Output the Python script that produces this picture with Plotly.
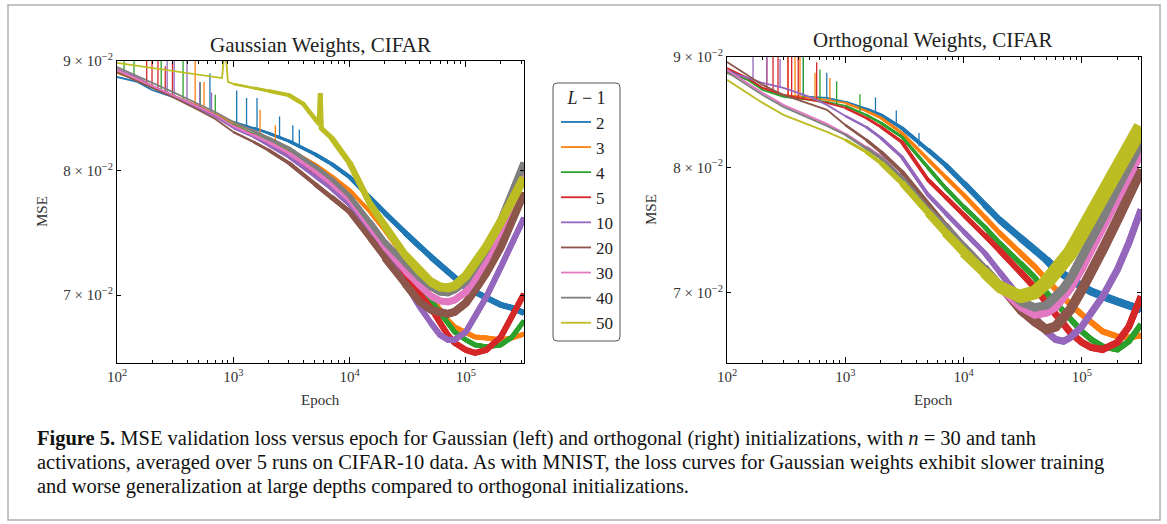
import plotly.graph_objects as go

# ---------------- data ----------------
EPOCHS = [100, 150, 200, 300, 500, 700, 1000, 1500, 2000, 3000, 5000, 7000,
          10000, 15000, 20000, 30000, 40000, 50000, 60000, 70000, 80000,
          100000, 120000, 150000, 200000, 250000, 316000]

DEPTHS = ["2", "3", "4", "5", "10", "20", "30", "40", "50"]

# Gaussian weights, CIFAR (left panel)
gauss_2 = [0.08847, 0.08800, 0.08724, 0.08659, 0.08567, 0.08502, 0.08430, 0.08375, 0.08330,
           0.08259, 0.08145, 0.08058, 0.07946, 0.07769, 0.07645, 0.07483, 0.07371, 0.07292,
           0.07230, 0.07176, 0.07137, 0.07061, 0.07023, 0.06978, 0.06926, 0.06904, 0.06867]
gauss_3 = [0.08885, 0.08818, 0.08753, 0.08677, 0.08576, 0.08502, 0.08421, 0.08348, 0.08286,
           0.08189, 0.08058, 0.07955, 0.07836, 0.07654, 0.07507, 0.07284, 0.07115, 0.06986,
           0.06889, 0.06815, 0.06765, 0.06721, 0.06692, 0.06685, 0.06671, 0.06685, 0.06713]
gauss_4 = [0.08914, 0.08837, 0.08762, 0.08677, 0.08567, 0.08493, 0.08402, 0.08321, 0.08259,
           0.08162, 0.08015, 0.07904, 0.07778, 0.07572, 0.07411, 0.07207, 0.07061, 0.06963,
           0.06867, 0.06794, 0.06728, 0.06671, 0.06635, 0.06621, 0.06635, 0.06692, 0.06808]
gauss_5 = [0.08914, 0.08837, 0.08762, 0.08677, 0.08567, 0.08484, 0.08393, 0.08313, 0.08241,
           0.08145, 0.07989, 0.07878, 0.07744, 0.07523, 0.07363, 0.07161, 0.07016, 0.06904,
           0.06794, 0.06706, 0.06650, 0.06599, 0.06578, 0.06599, 0.06692, 0.06838, 0.07008]
gauss_10 = [0.08923, 0.08837, 0.08762, 0.08668, 0.08558, 0.08475, 0.08375, 0.08295, 0.08224,
            0.08118, 0.07955, 0.07845, 0.07711, 0.07491, 0.07331, 0.07092, 0.06911, 0.06794,
            0.06706, 0.06671, 0.06671, 0.06728, 0.06838, 0.06986, 0.07214, 0.07403, 0.07604]
gauss_20 = [0.08894, 0.08809, 0.08743, 0.08659, 0.08539, 0.08457, 0.08339, 0.08250, 0.08180,
            0.08067, 0.07887, 0.07778, 0.07654, 0.07443, 0.07284, 0.07084, 0.06948, 0.06889,
            0.06867, 0.06860, 0.06874, 0.06941, 0.07039, 0.07168, 0.07371, 0.07588, 0.07811]
gauss_30 = [0.08914, 0.08828, 0.08762, 0.08677, 0.08567, 0.08493, 0.08393, 0.08313, 0.08250,
            0.08154, 0.07998, 0.07887, 0.07752, 0.07531, 0.07371, 0.07184, 0.07069, 0.06993,
            0.06956, 0.06948, 0.06963, 0.07023, 0.07122, 0.07269, 0.07507, 0.07728, 0.07989]
gauss_40 = [0.08942, 0.08856, 0.08790, 0.08706, 0.08594, 0.08521, 0.08430, 0.08348, 0.08286,
            0.08197, 0.08041, 0.07929, 0.07786, 0.07572, 0.07411, 0.07245, 0.07130, 0.07061,
            0.07023, 0.07016, 0.07039, 0.07099, 0.07207, 0.07347, 0.07588, 0.07811, 0.08067]
gauss_50_epochs = [100, 200, 300, 500, 700, 800, 850, 900, 1000, 1500, 2000, 3000, 4000,
                   4500, 5000, 5500, 5600, 5700, 7000, 10000, 15000, 20000, 30000, 40000,
                   50000, 60000, 70000, 80000, 100000, 120000, 150000, 200000, 250000, 316000]
gauss_50 = [0.08981, 0.08933, 0.08904, 0.08866, 0.08847, 0.08837, 0.09150, 0.08800, 0.08781,
            0.08743, 0.08715, 0.08677, 0.08594, 0.08521, 0.08466, 0.08411, 0.08696, 0.08375,
            0.08286, 0.08067, 0.07719, 0.07539, 0.07308, 0.07176, 0.07099, 0.07061, 0.07054,
            0.07069, 0.07145, 0.07245, 0.07371, 0.07572, 0.07752, 0.07938]

# Orthogonal weights, CIFAR (right panel)
orth_2 = [0.08876, 0.08801, 0.08708, 0.08634, 0.08625, 0.08616, 0.08580, 0.08515, 0.08461,
          0.08344, 0.08152, 0.08023, 0.07870, 0.07688, 0.07567, 0.07423, 0.07328, 0.07251,
          0.07175, 0.07136, 0.07099, 0.07045, 0.07008, 0.06971, 0.06934, 0.06905, 0.06875]
orth_3 = [0.08857, 0.08783, 0.08708, 0.08643, 0.08616, 0.08598, 0.08570, 0.08497, 0.08434,
          0.08300, 0.08066, 0.07921, 0.07770, 0.07590, 0.07463, 0.07305, 0.07197, 0.07099,
          0.07023, 0.06963, 0.06912, 0.06838, 0.06781, 0.06716, 0.06680, 0.06673, 0.06687]
orth_4 = [0.08848, 0.08783, 0.08690, 0.08625, 0.08598, 0.08580, 0.08543, 0.08461, 0.08389,
          0.08266, 0.07997, 0.07829, 0.07672, 0.07510, 0.07383, 0.07227, 0.07113, 0.07001,
          0.06926, 0.06853, 0.06802, 0.06716, 0.06659, 0.06609, 0.06588, 0.06646, 0.06766]
orth_5 = [0.08895, 0.08801, 0.08708, 0.08643, 0.08598, 0.08570, 0.08524, 0.08434, 0.08353,
          0.08221, 0.07895, 0.07754, 0.07606, 0.07447, 0.07328, 0.07159, 0.07038, 0.06926,
          0.06838, 0.06766, 0.06708, 0.06638, 0.06602, 0.06588, 0.06638, 0.06751, 0.06971]
orth_10 = [0.08857, 0.08801, 0.08754, 0.08708, 0.08625, 0.08552, 0.08452, 0.08353, 0.08256,
           0.08091, 0.07770, 0.07622, 0.07471, 0.07305, 0.07159, 0.06971, 0.06824, 0.06716,
           0.06659, 0.06646, 0.06673, 0.06751, 0.06853, 0.06971, 0.07175, 0.07383, 0.07648]
orth_20 = [0.08952, 0.08829, 0.08736, 0.08643, 0.08561, 0.08506, 0.08371, 0.08239, 0.08134,
           0.07964, 0.07688, 0.07526, 0.07352, 0.07190, 0.07061, 0.06875, 0.06781, 0.06730,
           0.06751, 0.06817, 0.06875, 0.07023, 0.07151, 0.07328, 0.07567, 0.07754, 0.07980]
orth_30 = [0.08876, 0.08754, 0.08662, 0.08552, 0.08452, 0.08380, 0.08292, 0.08177, 0.08091,
           0.07912, 0.07648, 0.07518, 0.07360, 0.07190, 0.07045, 0.06898, 0.06838, 0.06853,
           0.06898, 0.06971, 0.07038, 0.07190, 0.07328, 0.07502, 0.07754, 0.07938, 0.08134]
orth_40 = [0.08857, 0.08736, 0.08643, 0.08534, 0.08434, 0.08362, 0.08283, 0.08169, 0.08082,
           0.07912, 0.07656, 0.07518, 0.07360, 0.07190, 0.07068, 0.06934, 0.06890, 0.06905,
           0.06963, 0.07030, 0.07105, 0.07266, 0.07407, 0.07582, 0.07829, 0.08023, 0.08221]
orth_50 = [0.08783, 0.08662, 0.08570, 0.08461, 0.08371, 0.08309, 0.08239, 0.08134, 0.08040,
           0.07870, 0.07622, 0.07463, 0.07305, 0.07151, 0.07045, 0.06971, 0.07001, 0.07076,
           0.07151, 0.07227, 0.07305, 0.07463, 0.07590, 0.07754, 0.07980, 0.08177, 0.08353]

# Early noise spikes seen in the reference: epoch, curve level, spike top
gauss_spike_epochs = {
    0: [630, 1070, 1300, 1600, 2500, 3250, 3700],
    1: [470, 560, 1700, 2300],
    2: [115, 140, 240, 370, 520, 700],
    3: [180, 200, 225, 260, 300],
    4: [270, 310, 400, 515, 650],
}
gauss_spike_low = {
    0: [0.0852, 0.0842, 0.0839, 0.0837, 0.0829, 0.0825, 0.0821],
    1: [0.0859, 0.0855, 0.0832, 0.0826],
    2: [0.0889, 0.0885, 0.0872, 0.0863, 0.0856, 0.0849],
    3: [0.0879, 0.0876, 0.0873, 0.0870, 0.0868],
    4: [0.0869, 0.0866, 0.0861, 0.0855, 0.0849],
}
gauss_spike_high = {
    0: [0.0888, 0.0872, 0.0865, 0.0865, 0.0848, 0.0840, 0.0836],
    1: [0.0905, 0.0880, 0.0854, 0.0840],
    2: [0.0905, 0.0905, 0.0905, 0.0905, 0.0880, 0.0868],
    3: [0.0905, 0.0905, 0.0905, 0.0895, 0.0898],
    4: [0.0905, 0.0905, 0.0905, 0.0880, 0.0870],
}
orth_spike_epochs = {
    0: [442, 697, 1800, 2700, 4200],
    1: [328, 376, 414, 555, 742],
    2: [442, 611, 845, 1330],
    3: [217, 245, 270, 328, 352, 400, 573],
    4: [166, 217, 281],
}
orth_spike_low = {
    0: [0.0863, 0.0862, 0.0848, 0.0836, 0.0818],
    1: [0.0864, 0.0863, 0.0862, 0.0861, 0.0859],
    2: [0.0861, 0.0859, 0.0856, 0.0848],
    3: [0.0870, 0.0869, 0.0867, 0.0864, 0.0863, 0.0862, 0.0859],
    4: [0.0880, 0.0876, 0.0871],
}
orth_spike_high = {
    0: [0.0905, 0.0885, 0.0862, 0.0850, 0.0830],
    1: [0.0905, 0.0905, 0.0905, 0.0885, 0.0880],
    2: [0.0905, 0.0888, 0.0877, 0.0865],
    3: [0.0905, 0.0905, 0.0905, 0.0905, 0.0905, 0.0905, 0.0895],
    4: [0.0905, 0.0905, 0.0898],
}

X_TICKS = [100, 1000, 10000, 100000]
X_TICK_TEXT = ["10<sup>2</sup>", "10<sup>3</sup>", "10<sup>4</sup>", "10<sup>5</sup>"]
X_MINOR = [m * 10 ** e for e in range(2, 6) for m in range(2, 10)]
Y_TICKS = [0.07, 0.08, 0.09]
Y_TICK_TEXT = ["7 × 10<sup>−2</sup>", "8 × 10<sup>−2</sup>", "9 × 10<sup>−2</sup>"]

COLORS = ["#1f77b4", "#ff7f0e", "#2ca02c", "#d62728", "#9467bd",
          "#8c564b", "#e377c2", "#7f7f7f", "#bcbd22"]
# line thickness grows with epoch like the noise band in the reference
BASE_WIDTH = 1.8
TIER_STARTS = [1000, 1500, 2000, 3000, 5000, 7000, 10000, 15000, 20000, 30000, 50000]
LATE_WIDTH_L = [6, 5, 5, 6, 6, 8, 7, 7, 9]
LATE_WIDTH_R = [8, 6, 6, 7, 7, 10, 9, 9, 15]

gauss_series = [(EPOCHS, gauss_2), (EPOCHS, gauss_3), (EPOCHS, gauss_4), (EPOCHS, gauss_5),
                (EPOCHS, gauss_10), (EPOCHS, gauss_20), (EPOCHS, gauss_30), (EPOCHS, gauss_40),
                (gauss_50_epochs, gauss_50)]
orth_series = [(EPOCHS, s) for s in
               [orth_2, orth_3, orth_4, orth_5, orth_10, orth_20, orth_30, orth_40, orth_50]]

# ---------------- figure ----------------
W, H = 1167, 524
FONT = "Liberation Serif"

fig = go.Figure()


def add_panel(series, spike_e, spike_lo, spike_hi, late_widths, xa, ya, legend):
    n_tiers = len(TIER_STARTS)
    for i, (ex, vals) in enumerate(series):
        col = COLORS[i]
        if i in spike_e:
            sx, sy = [], []
            for e, lo, hi in zip(spike_e[i], spike_lo[i], spike_hi[i]):
                sx += [e, e, None]
                sy += [lo, hi, None]
            fig.add_trace(go.Scatter(x=sx, y=sy, mode="lines", showlegend=False,
                                     line=dict(color=col, width=1.3), hoverinfo="skip",
                                     xaxis=xa, yaxis=ya, legendgroup=DEPTHS[i]))
        fig.add_trace(go.Scatter(x=ex, y=vals, mode="lines", name=DEPTHS[i],
                                 line=dict(color=col, width=BASE_WIDTH), showlegend=legend,
                                 xaxis=xa, yaxis=ya, legendgroup=DEPTHS[i]))
        for t, start in enumerate(TIER_STARTS):
            k0 = next(k for k, e in enumerate(ex) if e >= start)
            width = BASE_WIDTH + (late_widths[i] - BASE_WIDTH) * (t + 1) / n_tiers
            fig.add_trace(go.Scatter(x=ex[k0:], y=vals[k0:], mode="lines", showlegend=False,
                                     line=dict(color=col, width=width), hoverinfo="skip",
                                     xaxis=xa, yaxis=ya, legendgroup=DEPTHS[i]))


add_panel(gauss_series, gauss_spike_epochs, gauss_spike_low, gauss_spike_high,
          LATE_WIDTH_L, "x", "y", True)
add_panel(orth_series, orth_spike_epochs, orth_spike_low, orth_spike_high,
          LATE_WIDTH_R, "x2", "y2", False)


def px_x(p):
    return p / W


def px_y(p):
    return 1 - p / H


axis_common = dict(
    type="log", showline=True, linecolor="black", linewidth=1, mirror="allticks",
    ticks="inside", tickcolor="black", showgrid=False, zeroline=False, automargin=False,
    tickfont=dict(family=FONT, size=15, color="#333"),
)

xaxis_common = dict(axis_common, range=[2, 5.5], tickvals=X_TICKS, ticktext=X_TICK_TEXT,
                    ticklen=6,
                    minor=dict(ticks="inside", ticklen=3, tickcolor="black",
                               tickvals=X_MINOR, showgrid=False))
yaxis_common = dict(axis_common, tickvals=Y_TICKS, ticktext=Y_TICK_TEXT, ticklen=4)

fig.update_layout(
    template="none",
    width=W, height=H, margin=dict(l=0, r=0, t=0, b=0, pad=0, autoexpand=False),
    paper_bgcolor="white", plot_bgcolor="white",
    font=dict(family=FONT, color="#222"),
    xaxis=dict(xaxis_common, domain=[px_x(117), px_x(524)], anchor="y"),
    yaxis=dict(yaxis_common, domain=[px_y(363), px_y(61)], anchor="x",
               range=[-1.1866, -1.04576]),
    xaxis2=dict(xaxis_common, domain=[px_x(727), px_x(1141)], anchor="y2"),
    yaxis2=dict(yaxis_common, domain=[px_y(363), px_y(57)], anchor="x2",
                range=[-1.1875, -1.04576]),
    legend=dict(x=px_x(556), y=px_y(81), xanchor="left", yanchor="top",
                bgcolor="rgba(0,0,0,0)", borderwidth=0,
                font=dict(family=FONT, size=17, color="#222"),
                title=dict(text="<i>L</i> − 1", side="top center",
                           font=dict(family=FONT, size=18, color="#222")),
                itemwidth=30, tracegroupgap=0),
    showlegend=True,
)

ann_font = dict(family=FONT, size=15, color="#333")
annotations = [
    dict(text="Gaussian Weights, CIFAR", x=px_x(320), y=px_y(45),
         font=dict(family=FONT, size=21, color="#222")),
    dict(text="Orthogonal Weights, CIFAR", x=px_x(933), y=px_y(40),
         font=dict(family=FONT, size=21, color="#222")),
    dict(text="MSE", x=px_x(42), y=px_y(212), textangle=-90, font=ann_font),
    dict(text="MSE", x=px_x(651), y=px_y(210), textangle=-90, font=ann_font),
    dict(text="Epoch", x=px_x(320), y=px_y(400), font=ann_font),
    dict(text="Epoch", x=px_x(933), y=px_y(400), font=ann_font),
]
for a in annotations:
    a.update(xref="paper", yref="paper", showarrow=False, xanchor="center", yanchor="middle")

CAPTION_LINES = [
    "<b>Figure 5.</b> MSE validation loss versus epoch for Gaussian (left) and "
    "orthogonal (right) initializations, with <i>n</i> = 30 and tanh",
    "activations, averaged over 5 runs on CIFAR-10 data. As with MNIST, the loss "
    "curves for Gaussian weights exhibit slower training",
    "and worse generalization at large depths compared to orthogonal initializations.",
]
for k, line in enumerate(CAPTION_LINES):
    annotations.append(dict(text=line, xref="paper", yref="paper", x=px_x(35),
                            y=px_y(438 + 24 * k), showarrow=False, xanchor="left",
                            yanchor="middle", align="left",
                            font=dict(family=FONT, size=20.5, color="#111")))
fig.update_layout(annotations=annotations)

# outer frame and rounded legend frame
x0, x1, y0, y1, r = px_x(553), px_x(620), px_y(83), px_y(341), 4
rx, ry = r / W, r / H
legend_path = (f"M {x0 + rx},{y0} L {x1 - rx},{y0} Q {x1},{y0} {x1},{y0 - ry} "
               f"L {x1},{y1 + ry} Q {x1},{y1} {x1 - rx},{y1} L {x0 + rx},{y1} "
               f"Q {x0},{y1} {x0},{y1 + ry} L {x0},{y0 - ry} Q {x0},{y0} {x0 + rx},{y0} Z")
fig.update_layout(shapes=[
    dict(type="rect", xref="paper", yref="paper", x0=px_x(8), x1=px_x(1160),
         y0=px_y(520), y1=px_y(5), line=dict(color="#b0b0b0", width=1.5)),
    dict(type="path", xref="paper", yref="paper", path=legend_path,
         line=dict(color="#555", width=1)),
])

fig.write_html("out.html")
